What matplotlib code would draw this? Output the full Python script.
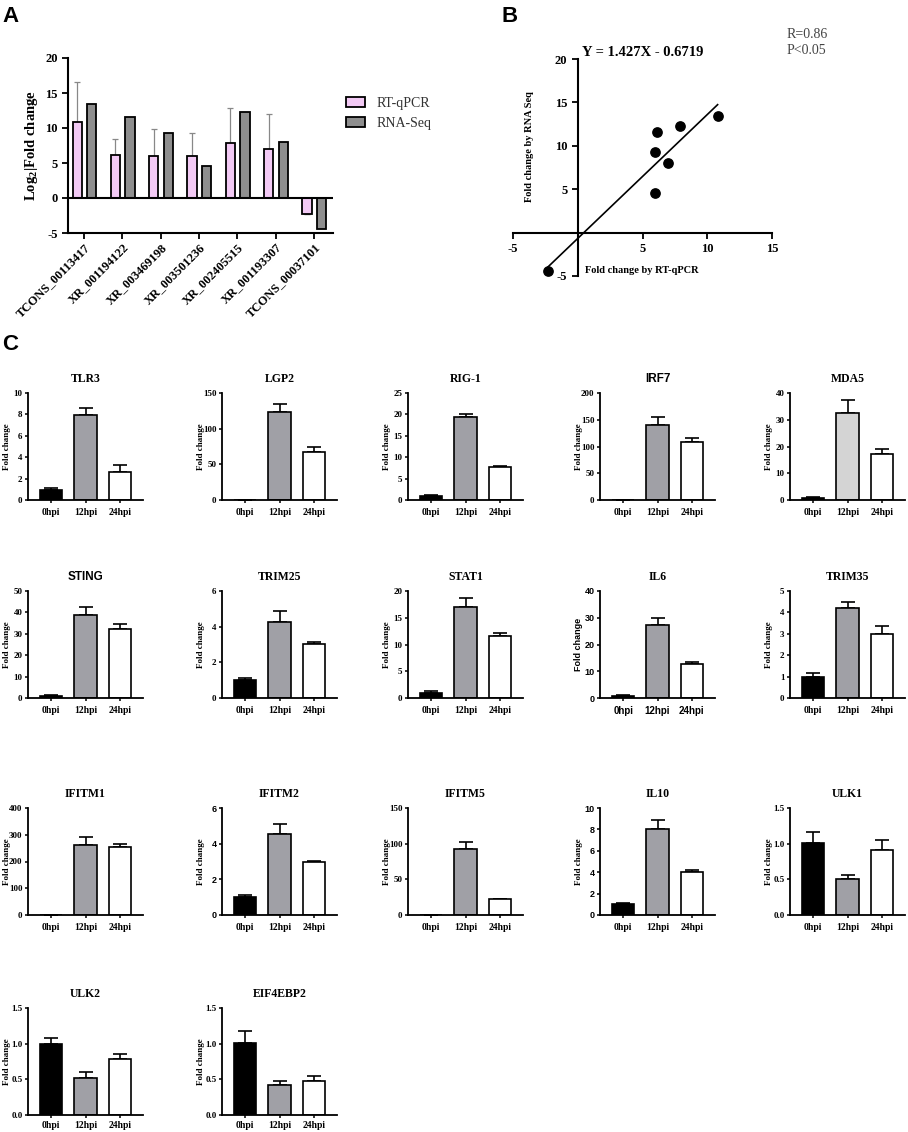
import matplotlib
matplotlib.use("Agg")
import matplotlib.pyplot as plt
import numpy as np
from matplotlib.ticker import FormatStrFormatter

plt.rcParams["font.family"] = ["Liberation Serif", "DejaVu Serif"]
plt.rcParams["font.weight"] = "bold"
plt.rcParams["axes.unicode_minus"] = False
plt.rcParams["mathtext.fontset"] = "custom"
plt.rcParams["mathtext.rm"] = "Liberation Serif:bold"
plt.rcParams["mathtext.bf"] = "Liberation Serif:bold"

# panel A data
lnc_ids = ["TCONS_00113417", "XR_001194122", "XR_003469198", "XR_003501236",
           "XR_002405515", "XR_001193307", "TCONS_00037101"]
qpcr = [10.8, 6.1, 6.0, 6.0, 7.9, 7.0, -2.3]
qpcr_err = [5.8, 2.4, 3.9, 3.3, 4.9, 5.0, 0.0]
rnaseq = [13.4, 11.6, 9.3, 4.6, 12.3, 8.0, -4.4]

# panel B fit
slope = 1.427
intercept = -0.6719

# panel C data
genes = ["TLR3", "LGP2", "RIG-1", "IRF7", "MDA5",
         "STING", "TRIM25", "STAT1", "IL6", "TRIM35",
         "IFITM1", "IFITM2", "IFITM5", "IL10", "ULK1",
         "ULK2", "EIF4EBP2"]
timepoints = ["0hpi", "12hpi", "24hpi"]
c_means = [[0.95, 7.95, 2.6], [0.5, 124, 67], [1.0, 19.3, 7.6], [0.5, 141, 108], [0.8, 32.7, 17.2],
           [0.8, 38.6, 32.3], [1.0, 4.25, 3.05], [1.0, 17.0, 11.5], [0.8, 27.3, 12.6], [1.0, 4.2, 3.0],
           [0.0, 262, 256], [1.0, 4.55, 2.95], [0.5, 92, 22], [1.0, 8.0, 4.05], [1.01, 0.51, 0.91],
           [1.0, 0.52, 0.79], [1.01, 0.42, 0.48]]
c_errs = [[0.15, 0.65, 0.7], [0.0, 10, 7], [0.2, 0.7, 0.35], [0.0, 14, 7], [0.4, 4.6, 1.8],
          [0.4, 3.7, 2.4], [0.1, 0.62, 0.1], [0.25, 1.6, 0.6], [0.4, 2.5, 0.9], [0.15, 0.27, 0.38],
          [0.0, 30, 9], [0.12, 0.55, 0.1], [0.0, 10, 1], [0.15, 0.9, 0.2], [0.16, 0.05, 0.14],
          [0.08, 0.08, 0.06], [0.17, 0.05, 0.07]]
c_ymax = [10, 150, 25, 200, 40, 50, 6, 20, 40, 5, 400, 6, 150, 10, 1.5, 1.5, 1.5]
c_ystep = [2, 50, 5, 50, 10, 10, 2, 5, 10, 1, 100, 2, 50, 2, 0.5, 0.5, 0.5]

W, H = 908, 1132
fig = plt.figure(figsize=(W / 100, H / 100), dpi=100)
SANS = ["Liberation Sans", "DejaVu Sans"]


def px_axes(left, top, right, bottom):
    return fig.add_axes([left / W, 1 - bottom / H, (right - left) / W, (bottom - top) / H])


# ---- panel A
axA = px_axes(68, 58, 333, 233)
xa = np.arange(len(lnc_ids))
pink = "#f2c9f4"
grey = "#8e8e8e"
axA.bar(xa - 0.18, qpcr, 0.24, color=pink, edgecolor="black", linewidth=1.3, label="RT-qPCR", zorder=2)
axA.bar(xa + 0.2, rnaseq, 0.24, color=grey, edgecolor="black", linewidth=1.3, label="RNA-Seq", zorder=2)
axA.errorbar(xa - 0.18, qpcr, yerr=[np.zeros(len(qpcr)), qpcr_err], fmt="none",
             ecolor="#888888", elinewidth=0.9, capsize=2.5, capthick=0.9, zorder=1)
axA.axhline(0, color="black", lw=1.5, zorder=3)
axA.set_xlim(-0.42, 6.5)
axA.set_ylim(-5, 20)
axA.set_yticks([-5, 0, 5, 10, 15, 20])
axA.set_xticks(xa)
axA.set_xticklabels(lnc_ids, rotation=45, ha="right", rotation_mode="anchor", fontsize=5.2)
axA.spines[["top", "right"]].set_visible(False)
for s in ["left", "bottom"]:
    axA.spines[s].set_linewidth(1.5)
axA.tick_params(width=1.3, length=4, labelsize=9)
axA.tick_params(axis="x", pad=2)
axA.set_ylabel("Log$_{2}$|Fold change", fontsize=10.5, fontweight="bold")
axA.legend(loc="upper left", bbox_to_anchor=(1.0, 0.85), frameon=False,
           prop={"weight": "normal", "size": 10}, handlelength=1.4, handleheight=0.8,
           labelcolor="#333333")

# ---- panel B
axB = px_axes(513, 59, 772, 276)
axB.set_xlim(-5, 15)
axB.set_ylim(-5, 20)
axB.spines[["top", "right"]].set_visible(False)
axB.spines["left"].set_position(("data", 0))
axB.spines["bottom"].set_position(("data", 0))
for s in ["left", "bottom"]:
    axB.spines[s].set_linewidth(1.5)
axB.set_xticks([-5, 5, 10, 15])
axB.set_yticks([-5, 5, 10, 15, 20])
axB.tick_params(width=1.3, length=4, labelsize=9)
axB.scatter(qpcr, rnaseq, s=45, color="black", zorder=3, clip_on=False)
xl = np.array([min(qpcr), max(qpcr)])
axB.plot(xl, slope * xl + intercept, color="black", lw=1.2, clip_on=False)
axB.set_title("Y = 1.427X - 0.6719", fontsize=10.5, fontweight="bold", pad=2)
axB.text(-3.75, 9.9, "Fold change by RNA Seq", rotation=90, ha="center", va="center", fontsize=7.5)
axB.text(0.55, -4.4, "Fold change by RT-qPCR", ha="left", va="center", fontsize=7.5)
fig.text(787 / W, 1 - 35 / H, "R=0.86", fontsize=10, fontweight="normal", color="#444444", va="center")
fig.text(787 / W, 1 - 51 / H, "P<0.05", fontsize=10, fontweight="normal", color="#444444", va="center")

# ---- panel C
col_left = [28, 222, 408, 600, 790]
row_top = [393, 591, 808, 1008]
bar_colors = ["black", "#a0a0a6", "white"]
for i, g in enumerate(genes):
    r, c = divmod(i, 5)
    left, top = col_left[c], row_top[r]
    ax = px_axes(left, top, left + 115, top + 107)
    cols = list(bar_colors)
    if g == "MDA5":
        cols[1] = "#d4d4d4"
    xs = np.arange(3)
    ax.bar(xs, c_means[i], 0.65, color=cols, edgecolor="black", linewidth=1.2, zorder=2)
    ax.errorbar(xs, c_means[i], yerr=[np.zeros(3), c_errs[i]], fmt="none", ecolor="black",
                elinewidth=1.2, capsize=5, capthick=1.2, zorder=1)
    ax.set_xlim(-0.68, 2.68)
    ax.set_ylim(0, c_ymax[i])
    ax.set_yticks(np.arange(0, c_ymax[i] + c_ystep[i] / 2, c_ystep[i]))
    if c_ystep[i] < 1:
        ax.yaxis.set_major_formatter(FormatStrFormatter("%.1f"))
    ax.set_xticks(xs)
    ax.set_xticklabels(timepoints)
    ax.spines[["top", "right"]].set_visible(False)
    for s in ["left", "bottom"]:
        ax.spines[s].set_linewidth(1.3)
    ax.tick_params(width=1.1, length=2.5, labelsize=6.5, pad=1.5)
    ax.tick_params(axis="x", labelsize=7, pad=1.5 if r == 3 else 3)
    ax.set_ylabel("Fold change", fontsize=6.5, fontweight="bold")
    ax.yaxis.set_label_coords(-0.15, 0.5)
    if g in ("IL6", "IL10", "IFITM2"):
        for t in ax.get_yticklabels():
            t.set_family(SANS)
    if g == "IL6":
        for t in ax.get_xticklabels():
            t.set_family(SANS)
        ax.yaxis.label.set_family(SANS)
    if g in ("STING", "IRF7"):
        ax.set_title(g, fontsize=8.5, fontweight="bold", pad=8, family=SANS)
    else:
        ax.set_title(g, fontsize=8.5, fontweight="bold", pad=8)

# panel letters
for lab, x, y in [("A", 2, 16), ("B", 502, 17), ("C", 2, 345)]:
    fig.text(x / W, 1 - y / H, lab, fontsize=16, fontweight="bold", va="center", family=SANS)

fig.savefig("out.png", dpi=100)
